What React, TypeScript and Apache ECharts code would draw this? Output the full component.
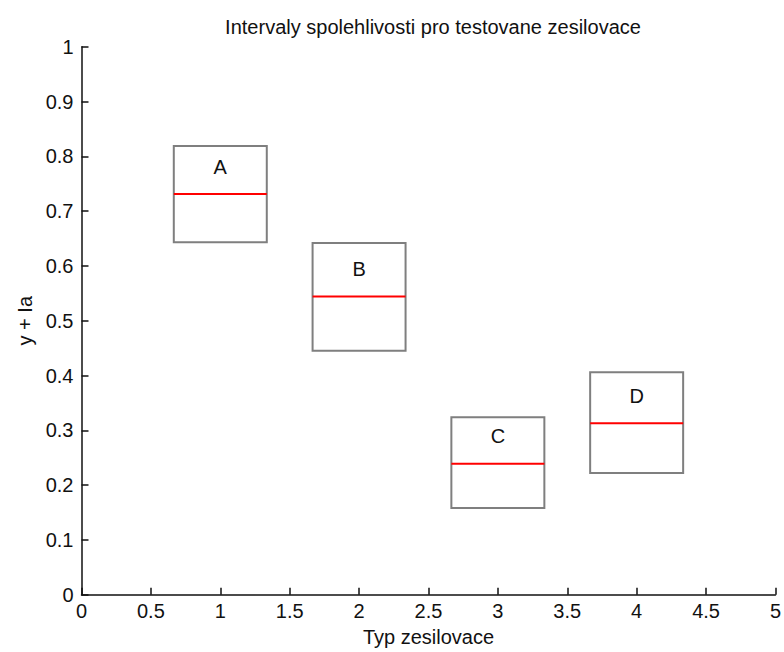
import React, { useEffect, useRef } from "react";
import * as echarts from "echarts";

const titleText = "Intervaly spolehlivosti pro testovane zesilovace";
const xAxisName = "Typ zesilovace";
const yAxisName = "y + Ia";
const categories = ["A", "B", "C", "D"];
const positions = [1, 2, 3, 4];
const lower = [0.643, 0.445, 0.158, 0.222];
const upper = [0.819, 0.642, 0.324, 0.406];
const mean = [0.731, 0.544, 0.239, 0.313];
const boxHalfWidth = 0.335;
const labelOffset = 0.05;

const FONT = "Liberation Sans, Arial, sans-serif";

export default function App() {
  const ref = useRef<HTMLDivElement>(null);
  useEffect(() => {
    document.body.style.margin = "0";
    const chart = echarts.init(ref.current!, null, { renderer: "svg" });
    const data = categories.map((c, i) => [positions[i], lower[i], upper[i], mean[i], c]);
    chart.setOption({
      animation: false,
      backgroundColor: "#fff",
      title: {
        text: titleText,
        left: 428,
        textAlign: "center",
        top: 12,
        textStyle: { fontFamily: FONT, fontSize: 20, fontWeight: "normal", color: "#111" },
      },
      grid: { left: 81.5, right: 7.5, top: 46.7, bottom: 57.3, containLabel: false },
      xAxis: {
        type: "value",
        min: 0,
        max: 5,
        interval: 0.5,
        name: xAxisName,
        nameLocation: "middle",
        nameGap: 32,
        nameTextStyle: { fontFamily: FONT, fontSize: 20, color: "#111" },
        axisLine: { show: true, onZero: false, lineStyle: { color: "#111", width: 1.5 } },
        axisTick: { show: true, inside: true, length: 7, lineStyle: { color: "#111", width: 1.5 } },
        axisLabel: { fontFamily: FONT, fontSize: 20, color: "#111", margin: 6 },
        splitLine: { show: false },
      },
      yAxis: {
        type: "value",
        min: 0,
        max: 1,
        interval: 0.1,
        name: yAxisName,
        nameLocation: "middle",
        nameRotate: 90,
        nameGap: 46,
        nameTextStyle: { fontFamily: FONT, fontSize: 20, color: "#111" },
        axisLine: { show: true, onZero: false, lineStyle: { color: "#111", width: 1.5 } },
        axisTick: { show: true, inside: true, length: 7, lineStyle: { color: "#111", width: 1.5 } },
        axisLabel: { fontFamily: FONT, fontSize: 20, color: "#111", margin: 8 },
        splitLine: { show: false },
      },
      series: [
        {
          type: "custom",
          data,
          clip: false,
          renderItem: (params: any, api: any) => {
            const x = api.value(0);
            const lo = api.value(1);
            const hi = api.value(2);
            const m = api.value(3);
            const label = categories[params.dataIndex];
            const pTL = api.coord([x - boxHalfWidth, hi]);
            const pBR = api.coord([x + boxHalfWidth, lo]);
            const pML = api.coord([x - boxHalfWidth, m]);
            const pMR = api.coord([x + boxHalfWidth, m]);
            const pLab = api.coord([x, m + labelOffset]);
            return {
              type: "group",
              children: [
                {
                  type: "rect",
                  shape: { x: pTL[0], y: pTL[1], width: pBR[0] - pTL[0], height: pBR[1] - pTL[1] },
                  style: { fill: "none", stroke: "#7f7f7f", lineWidth: 2 },
                },
                {
                  type: "line",
                  shape: { x1: pML[0], y1: pML[1], x2: pMR[0], y2: pMR[1] },
                  style: { stroke: "#ff0000", lineWidth: 2 },
                },
                {
                  type: "text",
                  x: pLab[0],
                  y: pLab[1],
                  style: {
                    text: label,
                    fontFamily: FONT,
                    fontSize: 20,
                    fill: "#111",
                    align: "center",
                    verticalAlign: "middle",
                  },
                },
              ],
            };
          },
        },
      ],
    });
    return () => chart.dispose();
  }, []);
  return <div ref={ref} style={{ position: "fixed", left: 0, top: 0, width: 784, height: 652 }} />;
}
